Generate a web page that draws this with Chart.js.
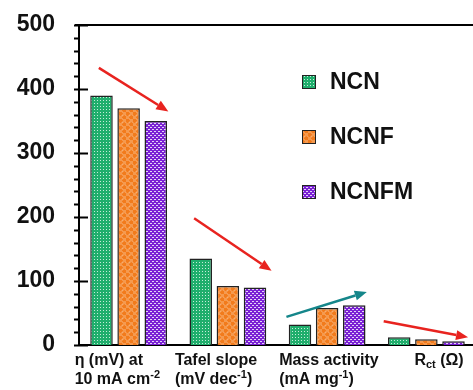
<!DOCTYPE html>
<html>
<head>
<meta charset="utf-8">
<script src="https://cdn.jsdelivr.net/npm/chart.js@4.4.0/dist/chart.umd.min.js"></script>
<style>
  html, body { margin: 0; padding: 0; background: #fff; overflow: hidden; width: 473px; height: 390px; }
  #wrap { width: 478px; height: 390px; }
</style>
</head>
<body>
<div id="wrap"><canvas id="chart" width="478" height="390"></canvas></div>
<script>
// category labels, ^{..} = superscript, _{..} = subscript
const categories = [
  ['η (mV) at', '10 mA cm^{-2}'],
  ['Tafel slope', '(mV dec^{-1})'],
  ['Mass activity', '(mA mg^{-1})'],
  ['R_{ct} (Ω)']
];
const seriesNames = ['NCN', 'NCNF', 'NCNFM'];
const ncn = [390, 135, 32, 12];
const ncnf = [370, 92, 58, 9];
const ncnfm = [350, 90, 62, 6];
const yTicks = [0, 100, 200, 300, 400, 500];

// trend arrows: [category, value] start -> end
const arrows = [
  { from: [-0.30, 433], to: [0.40, 365], color: '#e8231f' },
  { from: [0.66, 198], to: [1.44, 116], color: '#e8231f' },
  { from: [1.59, 44], to: [2.40, 83], color: '#15868a' },
  { from: [2.57, 37], to: [3.42, 12], color: '#e8231f' }
];

// left edge of each x label relative to the category centre
const labelShift = [-54, -53, -48, -12];

const FONT = '"Liberation Sans", Arial, sans-serif';

function makePattern(kind) {
  const c = document.createElement('canvas');
  const g = c.getContext('2d');
  if (kind === 'green') {
    c.width = 3; c.height = 3;
    g.fillStyle = '#1fae6c';
    g.fillRect(0, 0, 3, 3);
    g.fillStyle = 'rgba(255,255,255,0.75)';
    g.fillRect(1, 1, 1, 1);
  } else if (kind === 'orange') {
    c.width = 7; c.height = 7;
    g.fillStyle = '#fde7d2';
    g.fillRect(0, 0, 7, 7);
    g.fillStyle = '#f27b1c';
    g.beginPath(); g.arc(1.75, 1.75, 2.3, 0, Math.PI * 2); g.fill();
    g.beginPath(); g.arc(5.25, 5.25, 2.3, 0, Math.PI * 2); g.fill();
    g.fillStyle = '#f59a4f';
    g.fillRect(4, 0, 3, 3);
    g.fillRect(0, 4, 3, 3);
  } else {
    c.width = 4; c.height = 4;
    g.fillStyle = '#7a20d4';
    g.fillRect(0, 0, 4, 4);
    g.fillStyle = 'rgba(255,255,255,0.8)';
    g.fillRect(0, 1, 2, 1);
    g.fillRect(2, 3, 2, 1);
  }
  return g.createPattern(c, 'repeat');
}

const fills = [makePattern('green'), makePattern('orange'), makePattern('purple')];

// draws a label line with ^{} and _{} parts
function drawRich(ctx, text, x, y) {
  const parts = text.split(/([\^_]\{[^}]*\})/).filter(s => s.length);
  let cx = x;
  parts.forEach(p => {
    let dy = 0;
    let t = p;
    if (p.startsWith('^{')) { ctx.font = 'bold 11px ' + FONT; dy = -6; t = p.slice(2, -1); }
    else if (p.startsWith('_{')) { ctx.font = 'bold 11px ' + FONT; dy = 3; t = p.slice(2, -1); }
    else { ctx.font = 'bold 16px ' + FONT; }
    ctx.fillText(t, cx, y + dy);
    cx += ctx.measureText(t).width;
  });
}

function drawArrow(ctx, x1, y1, x2, y2, color) {
  const ang = Math.atan2(y2 - y1, x2 - x1);
  const head = 12, half = 5;
  const bx = x2 - head * Math.cos(ang), by = y2 - head * Math.sin(ang);
  ctx.strokeStyle = color;
  ctx.fillStyle = color;
  ctx.lineWidth = 2.5;
  ctx.beginPath(); ctx.moveTo(x1, y1); ctx.lineTo(bx, by); ctx.stroke();
  ctx.beginPath();
  ctx.moveTo(x2, y2);
  ctx.lineTo(bx + half * Math.sin(ang), by - half * Math.cos(ang));
  ctx.lineTo(bx - half * Math.sin(ang), by + half * Math.cos(ang));
  ctx.closePath(); ctx.fill();
}

const decorations = {
  id: 'decorations',
  afterDraw(chart) {
    const ctx = chart.ctx;
    const area = chart.chartArea;
    const xs = chart.scales.x, ys = chart.scales.y;
    const step = xs.getPixelForValue(1) - xs.getPixelForValue(0);
    ctx.save();

    // top frame line
    ctx.strokeStyle = '#000';
    ctx.lineWidth = 2;
    ctx.beginPath(); ctx.moveTo(area.left - 4, area.top); ctx.lineTo(area.right, area.top); ctx.stroke();

    // y tick marks: long majors across the axis, short minors outside
    ctx.lineWidth = 2;
    for (let v = 0; v <= 500; v += 20) {
      const y = Math.round(ys.getPixelForValue(v)) + 0.5;
      const major = v % 100 === 0;
      ctx.beginPath();
      ctx.moveTo(area.left - 5, y);
      ctx.lineTo(major ? area.left + 9 : area.left, y);
      ctx.stroke();
    }

    // x labels
    ctx.fillStyle = '#111';
    ctx.textBaseline = 'alphabetic';
    ctx.textAlign = 'left';
    categories.forEach((lines, i) => {
      const left = xs.getPixelForValue(i) + labelShift[i];
      lines.forEach((ln, k) => drawRich(ctx, ln, left, area.bottom + 20 + k * 19));
    });

    // trend arrows
    arrows.forEach(a => {
      const px = v => xs.getPixelForValue(0) + v * step;
      drawArrow(ctx, px(a.from[0]), ys.getPixelForValue(a.from[1]),
        px(a.to[0]), ys.getPixelForValue(a.to[1]), a.color);
    });

    // legend
    ctx.font = 'bold 23px ' + FONT;
    ctx.textBaseline = 'middle';
    seriesNames.forEach((name, i) => {
      const y = area.top + 57 + i * 55;
      const bx = area.left + 223;
      ctx.fillStyle = fills[i];
      ctx.fillRect(bx, y - 7, 14, 14);
      ctx.strokeStyle = '#222';
      ctx.lineWidth = 1;
      ctx.strokeRect(bx + 0.5, y - 6.5, 13, 13);
      ctx.fillStyle = '#111';
      ctx.fillText(name, area.left + 251, y + 1);
    });
    ctx.restore();
  }
};

const datasets = [ncn, ncnf, ncnfm].map((vals, i) => ({
  label: seriesNames[i],
  data: vals,
  backgroundColor: fills[i],
  borderColor: '#222',
  borderWidth: 1.5,
  borderSkipped: 'bottom',
  categoryPercentage: 0.82,
  barPercentage: 0.83
}));

new Chart(document.getElementById('chart').getContext('2d'), {
  type: 'bar',
  data: { labels: categories.map(c => c.join(' ')), datasets },
  options: {
    responsive: false,
    animation: false,
    layout: { padding: { top: 25, right: 2, left: 0, bottom: 0 } },
    plugins: { legend: { display: false }, tooltip: { enabled: false } },
    scales: {
      x: {
        grid: { display: false },
        border: { display: true, color: '#000', width: 2 },
        ticks: { display: false },
        afterFit: s => { s.height = 45; }
      },
      y: {
        min: 0,
        max: 500,
        afterBuildTicks: s => { s.ticks = yTicks.map(v => ({ value: v })); },
        grid: { display: false, drawTicks: false },
        border: { display: true, color: '#000', width: 2 },
        ticks: {
          padding: 24,
          color: '#111',
          font: { family: FONT, size: 23, weight: 'bold' }
        },
        afterFit: s => { s.width = 79; s.paddingTop = 0; s.paddingBottom = 0; }
      }
    }
  },
  plugins: [decorations]
});
</script>
</body>
</html>
